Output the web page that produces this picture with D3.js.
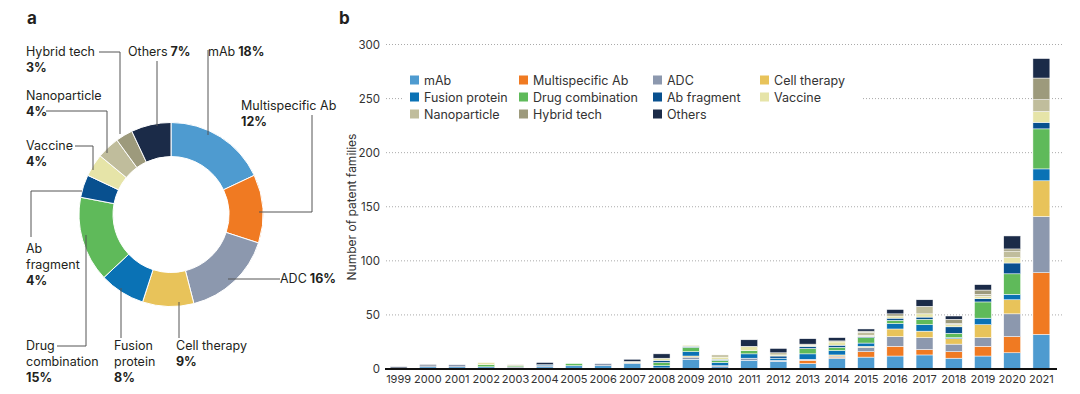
<!DOCTYPE html>
<html>
<head>
<meta charset="utf-8">
<script src="https://cdn.jsdelivr.net/npm/d3@7"></script>
<style>
body { margin: 0; background: #fff; }
svg { font-family: Inter, "Noto Sans", sans-serif; fill: #231f20; }
.lead { fill: none; stroke: #555; stroke-width: 1; }
</style>
</head>
<body>
<div id="chart"></div>
<script>
/* Data */

var categories = ["mAb", "Multispecific Ab", "ADC", "Cell therapy", "Fusion protein",
  "Drug combination", "Ab fragment", "Vaccine", "Nanoparticle", "Hybrid tech", "Others"];
var colors = ["#4e9bd0", "#f07a22", "#8c98ae", "#e8c35a", "#0a72b5",
  "#5fba5a", "#08508f", "#e6e4a8", "#c0bd9c", "#9d9a7c", "#1b2b48"];
var shares = [18, 12, 16, 9, 8, 15, 4, 4, 4, 3, 7]; // % for panel a

var years = ["1999", "2000", "2001", "2002", "2003", "2004", "2005", "2006", "2007", "2008", "2009",
  "2010", "2011", "2012", "2013", "2014", "2015", "2016", "2017", "2018", "2019", "2020", "2021"];
// one row per year, columns follow categories
var counts = [
  [0, 0, 0, 0, 0, 0, 1, 0, 0, 0, 1],
  [2, 0, 1, 0, 0, 0, 0, 0, 0, 0, 1],
  [2, 0, 2, 0, 0, 0, 0, 0, 0, 0, 0],
  [2, 0, 0, 0, 0, 2, 0, 2, 0, 0, 0],
  [1, 0, 1, 0, 0, 1, 0, 0, 1, 0, 0],
  [2, 0, 1, 0, 1, 0, 0, 0, 0, 0, 2],
  [3, 0, 0, 0, 0, 2, 0, 0, 0, 0, 0],
  [3, 0, 2, 0, 0, 0, 0, 0, 0, 0, 0],
  [5, 0, 1, 0, 0, 0, 0, 1, 0, 0, 2],
  [1, 0, 0, 0, 2, 3, 2, 2, 0, 0, 4],
  [9, 0, 2, 1, 4, 4, 1, 1, 0, 0, 0],
  [2, 0, 1, 0, 3, 2, 1, 2, 2, 0, 0],
  [8, 0, 2, 0, 4, 3, 0, 4, 0, 0, 6],
  [7, 0, 1, 0, 2, 0, 2, 1, 2, 0, 4],
  [5, 3, 1, 0, 5, 5, 2, 1, 1, 0, 5],
  [10, 1, 1, 1, 4, 3, 2, 3, 1, 0, 3],
  [11, 5, 4, 1, 3, 5, 1, 1, 3, 1, 2],
  [12, 9, 9, 7, 5, 3, 2, 2, 0, 2, 4],
  [13, 5, 11, 6, 6, 5, 2, 3, 7, 0, 6],
  [10, 6, 7, 5, 1, 4, 6, 2, 1, 4, 3],
  [12, 9, 8, 12, 6, 15, 3, 2, 2, 4, 5],
  [15, 15, 21, 13, 5, 19, 10, 5, 6, 2, 12],
  [32, 57, 52, 33, 11, 37, 6, 10, 11, 20, 18]
];
var yTicks = [0, 50, 100, 150, 200, 250, 300];

var svg = d3.select("#chart").append("svg").attr("width", 1080).attr("height", 394);

svg.append("text").attr("x", 27).attr("y", 24).style("font-weight", 700).style("font-size", "17px").text("a");
svg.append("text").attr("x", 339).attr("y", 24).style("font-weight", 700).style("font-size", "17px").text("b");

/* ------- PANEL A: DONUT -------*/

var cx = 171, cy = 214.5;
var pie = d3.pie().sort(null).value(function(d) { return d; });
var arc = d3.arc().innerRadius(58).outerRadius(92);
var g = svg.append("g").attr("transform", "translate(" + cx + "," + cy + ")");
g.selectAll("path").data(pie(shares)).enter().append("path")
  .attr("d", arc)
  .attr("fill", function(d, i) { return colors[i]; })
  .attr("stroke", "#fff").attr("stroke-width", 1);

// label blocks: lines of text, bold last line (percent), leader polyline
var labels = [
  { x: 26, y: 56, lines: ["Hybrid tech"], pct: "3%", pts: [[99, 52], [120, 52], [120, 134]] },
  { x: 128, y: 56, lines: ["Others"], pct: "7%", inline: true, pts: [[157, 61], [157, 126]] },
  { x: 208, y: 56, lines: ["mAb"], pct: "18%", inline: true, pts: [[208, 50], [208, 135]] },
  { x: 241, y: 110, lines: ["Multispecific Ab"], pct: "12%", pts: [[312, 115], [312, 212], [259, 212]] },
  { x: 280, y: 283, lines: ["ADC"], pct: "16%", inline: true, pts: [[280, 279], [228, 279]] },
  { x: 176, y: 350, lines: ["Cell therapy"], pct: "9%", pts: [[179, 338], [179, 302]] },
  { x: 114, y: 350, lines: ["Fusion", "protein"], pct: "8%", pts: [[121, 338], [121, 288]] },
  { x: 26, y: 350, lines: ["Drug", "combination"], pct: "15%", pts: [[57, 346], [86, 346], [86, 235]] },
  { x: 26, y: 253, lines: ["Ab", "fragment"], pct: "4%", pts: [[31, 237], [31, 191], [82, 191]] },
  { x: 26, y: 150, lines: ["Vaccine"], pct: "4%", pts: [[75, 146], [93, 146], [93, 170]] },
  { x: 26, y: 100, lines: ["Nanoparticle"], pct: "4%", pts: [[46, 111], [107, 111], [107, 153]] }
];

var lead = d3.line();
labels.forEach(function(l) {
  svg.append("path").attr("class", "lead").attr("d", lead(l.pts));
  var t = svg.append("text").attr("x", l.x).attr("y", l.y).style("font-size", "12.5px");
  l.lines.forEach(function(s, i) {
    t.append("tspan").attr("x", l.x).attr("dy", i == 0 ? 0 : 16).text(s);
  });
  if (l.inline) {
    t.append("tspan").style("font-weight", 700).text(" " + l.pct);
  } else {
    t.append("tspan").attr("x", l.x).attr("dy", 16).style("font-weight", 700).text(l.pct);
  }
});

/* ------- PANEL B: STACKED BARS -------*/

var x = d3.scaleBand().domain(years).range([384, 1056]).paddingInner(0.42).paddingOuter(0.21);
var y = d3.scaleLinear().domain([0, 300]).range([369, 44.5]);

var grid = svg.append("g");
grid.selectAll("line").data(yTicks.filter(function(d) { return d > 0; })).enter().append("line")
  .attr("x1", 386).attr("x2", 1062)
  .attr("y1", function(d) { return y(d); }).attr("y2", function(d) { return y(d); })
  .attr("stroke", "#aaa").attr("stroke-width", 1).attr("stroke-dasharray", "1,2");

var yAxis = svg.append("g").attr("transform", "translate(386,0)")
  .call(d3.axisLeft(y).tickValues(yTicks).tickSize(0).tickPadding(6));
yAxis.select(".domain").remove();
yAxis.selectAll("text").style("font-size", "11.5px").style("font-family", "Inter").attr("fill", "#333");

svg.append("text")
  .attr("transform", "translate(356,207) rotate(-90)")
  .attr("text-anchor", "middle").style("font-size", "12px").attr("fill", "#333")
  .text("Number of patent families");

var table = counts.map(function(row, i) {
  var o = { year: years[i] };
  categories.forEach(function(c, j) { o[c] = row[j]; });
  return o;
});
var series = d3.stack().keys(categories)(table);

svg.append("g").selectAll("g").data(series).enter().append("g")
  .attr("fill", function(d, i) { return colors[i]; })
  .selectAll("rect").data(function(d) { return d; }).enter().append("rect")
  .filter(function(d) { return d[1] > d[0]; })
  .attr("x", function(d) { return x(d.data.year); })
  .attr("width", x.bandwidth())
  .attr("y", function(d) { return y(d[1]); })
  .attr("height", function(d) { return y(d[0]) - y(d[1]); })
  .attr("stroke", "#fff").attr("stroke-width", 0.5);

var xAxis = svg.append("g").attr("transform", "translate(0,369)")
  .call(d3.axisBottom(x).tickSize(0).tickPadding(6));
xAxis.select(".domain").attr("stroke", "#111").attr("stroke-width", 2)
  .attr("d", "M385,0H1057");
xAxis.selectAll("text").style("font-size", "11px").style("font-family", "Inter").attr("fill", "#333");

// legend with white backing, four columns
var legend = svg.append("g");
legend.append("rect").attr("x", 402).attr("y", 70).attr("width", 460).attr("height", 52).attr("fill", "#fff");
var colX = [410, 519, 653, 760], rowY = [80, 97, 114];
categories.forEach(function(c, i) {
  var lx = colX[i % 4], ly = rowY[Math.floor(i / 4)];
  legend.append("rect").attr("x", lx).attr("y", ly - 4.5).attr("width", 9).attr("height", 9).attr("fill", colors[i]);
  legend.append("text").attr("x", lx + 14).attr("y", ly + 4.5).style("font-size", "12.5px").attr("fill", "#333").text(c);
});
</script>
</body>
</html>
